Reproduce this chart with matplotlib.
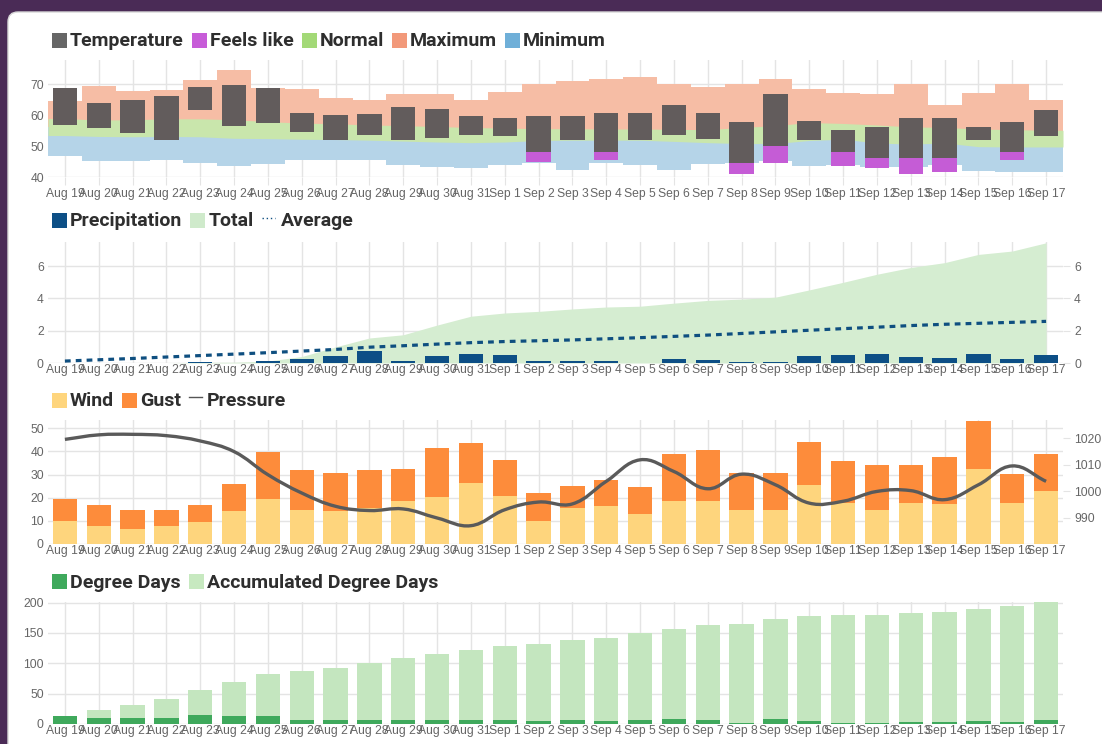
import matplotlib
matplotlib.use("Agg")
import matplotlib.pyplot as plt
import numpy as np
from matplotlib.lines import Line2D
from matplotlib.patches import FancyBboxPatch, PathPatch, Rectangle
from matplotlib.path import Path

W, H = 1102, 744
GRID = "#e4e4e4"
TICK_COLOR = "#666666"

days = ["Aug 19", "Aug 20", "Aug 21", "Aug 22", "Aug 23", "Aug 24", "Aug 25",
        "Aug 26", "Aug 27", "Aug 28", "Aug 29", "Aug 30", "Aug 31", "Sep 1",
        "Sep 2", "Sep 3", "Sep 4", "Sep 5", "Sep 6", "Sep 7", "Sep 8", "Sep 9",
        "Sep 10", "Sep 11", "Sep 12", "Sep 13", "Sep 14", "Sep 15", "Sep 16", "Sep 17"]

# temperature panel (F)
temp_high = [68.7, 63.9, 64.8, 66.2, 69.0, 69.6, 68.7, 60.8, 60.0, 60.3, 62.6, 62.0, 59.6, 59.0, 59.6,
             59.6, 60.7, 60.7, 63.3, 60.7, 57.8, 66.9, 58.1, 55.3, 56.0, 59.0, 59.0, 56.0, 57.8, 61.5]
temp_low = [56.7, 55.9, 54.3, 52.1, 61.7, 56.4, 57.5, 54.4, 51.8, 53.5, 51.8, 52.5, 53.5, 53.1, 48.1,
            52.1, 48.1, 51.8, 53.5, 52.3, 44.5, 50.0, 52.0, 48.1, 46.3, 46.3, 46.3, 51.8, 48.1, 53.4]
feels_low = [56.7, 55.9, 54.3, 52.1, 61.7, 56.4, 57.5, 54.4, 51.8, 53.5, 51.8, 52.5, 53.5, 53.1, 44.9,
             52.1, 45.6, 51.8, 53.5, 52.3, 40.9, 44.6, 52.0, 43.4, 42.9, 41.1, 41.5, 51.8, 45.6, 53.4]
normal_high = [58.9, 58.4, 58.5, 58.8, 58.8, 58.5, 57.9, 57.4, 57.2, 56.8, 56.6, 56.3, 56.0, 55.8, 55.6,
               55.6, 55.5, 55.5, 55.4, 55.3, 56.0, 56.6, 57.6, 57.3, 56.8, 56.2, 56.0, 55.5, 55.3, 55.1]
normal_low = [53.4, 53.1, 53.0, 53.1, 53.0, 52.5, 52.4, 52.2, 52.1, 51.9, 51.6, 51.3, 51.1, 51.3, 51.8,
              51.9, 51.9, 51.9, 51.5, 51.1, 50.8, 50.8, 51.8, 52.2, 51.0, 50.6, 51.0, 49.8, 49.7, 49.7]
max_high = [64.6, 69.4, 67.7, 68.2, 71.3, 74.5, 68.7, 68.5, 65.6, 65.0, 66.7, 66.7, 65.0, 67.5, 70.2,
            70.9, 71.8, 72.2, 69.9, 69.1, 69.9, 71.6, 68.3, 67.3, 66.8, 70.2, 63.2, 67.2, 69.9, 65.0]
min_low = [46.7, 45.1, 45.3, 45.6, 44.6, 43.5, 44.2, 45.4, 45.6, 45.6, 44.0, 43.2, 42.9, 43.8, 44.5,
           42.4, 44.5, 44.0, 42.4, 44.3, 44.6, 45.1, 43.6, 44.0, 43.2, 43.2, 43.8, 41.8, 41.6, 41.6]

# precipitation panel (in)
precip = [0, 0, 0, 0, 0.04, 0, 0.10, 0.22, 0.43, 0.72, 0.12, 0.43, 0.53, 0.49, 0.12,
          0.12, 0.12, 0.03, 0.22, 0.18, 0.06, 0.06, 0.41, 0.47, 0.53, 0.37, 0.31, 0.53, 0.25, 0.51]
precip_total = [0, 0, 0, 0, 0.04, 0.05, 0.12, 0.40, 1.0, 1.55, 1.75, 2.35, 2.9, 3.1, 3.2,
                3.35, 3.47, 3.52, 3.71, 3.88, 3.96, 4.08, 4.53, 5.0, 5.5, 5.92, 6.22, 6.73, 6.94, 7.45]
precip_avg = [0.12, 0.20, 0.28, 0.37, 0.46, 0.55, 0.64, 0.74, 0.84, 0.98, 1.07, 1.17, 1.26, 1.33, 1.38,
              1.43, 1.50, 1.57, 1.65, 1.73, 1.83, 1.93, 2.03, 2.13, 2.22, 2.32, 2.40, 2.46, 2.52, 2.58]

# wind panel (mph, hPa)
wind = [10.1, 7.9, 6.3, 7.9, 9.3, 14.1, 19.5, 14.8, 14.1, 15.5, 18.4, 20.4, 26.3, 20.8, 10.1,
        15.7, 16.5, 12.8, 18.4, 18.4, 14.5, 14.8, 25.7, 17.7, 14.5, 17.7, 17.4, 32.3, 17.7, 23.0]
gust = [19.5, 17.0, 14.8, 14.8, 17.0, 26.0, 39.9, 31.8, 30.9, 31.8, 32.3, 41.7, 43.7, 36.1, 22.0,
        25.1, 27.6, 24.6, 38.9, 40.7, 30.6, 30.9, 44.1, 35.9, 34.3, 34.3, 37.4, 53.3, 30.2, 38.9]
pressure = [1019.6, 1021.3, 1021.5, 1021.0, 1019.0, 1015.0, 1006.3, 999.4, 994.4, 992.8, 993.4, 990.0,
            987.1, 993.1, 996.0, 995.3, 1003.8, 1011.9, 1007.5, 1001.0, 1006.5, 1002.5, 995.6, 996.3,
            1000.0, 1000.3, 996.9, 1002.5, 1009.6, 1003.8]

# degree days panel
degree_days = [13.0, 9.8, 9.8, 9.8, 14.7, 13.0, 13.0, 7.1, 7.1, 7.1, 7.1, 7.1, 7.1, 7.1, 5.4,
               6.5, 5.4, 6.5, 8.2, 6.5, 1.0, 8.2, 4.9, 1.0, 1.0, 3.8, 3.8, 5.4, 3.3, 6.5]
degree_days_acc = [13.0, 22.3, 32.1, 41.8, 56.0, 69.0, 82.1, 88.0, 92.9, 101.1, 108.2, 115.8, 122.3,
                   128.8, 132.1, 138.6, 141.8, 149.5, 156.5, 162.5, 164.1, 172.3, 177.2, 178.8,
                   180.4, 182.1, 185.3, 190.2, 194.0, 200.5]

plt.rcParams["font.family"] = ["Liberation Sans", "DejaVu Sans"]

x = np.arange(len(days))


def px_axes(fig, top, bottom, left=48, right=1063):
    return fig.add_axes([left / W, 1 - bottom / H, (right - left) / W, (bottom - top) / H])


def style_axes(ax, ylim, yticks, xtick_len, xpad):
    ax.set_facecolor("none")
    ax.set_xlim(-0.5, len(days) - 0.5)
    ax.set_ylim(*ylim)
    ax.set_xticks(x)
    ax.set_xticklabels(days)
    ax.set_yticks(yticks)
    ax.grid(True, color=GRID, lw=1)
    ax.set_axisbelow(True)
    for s in ax.spines.values():
        s.set_visible(False)
    ax.tick_params(axis="x", length=xtick_len, color=GRID, pad=xpad,
                   labelsize=8.7, labelcolor=TICK_COLOR)
    ax.tick_params(axis="y", length=0, pad=3, labelsize=8.7, labelcolor=TICK_COLOR)


def right_axis(ax, ylim, yticks):
    rax = ax.twinx()
    rax.set_ylim(*ylim)
    rax.set_yticks(yticks)
    for s in rax.spines.values():
        s.set_visible(False)
    rax.tick_params(axis="y", length=5, color=GRID, pad=3, labelsize=8.7, labelcolor=TICK_COLOR)
    return rax


def smooth_path(ax, xs, ys, tension=0.4):
    # chart.js style bezier through the data points, built in pixel space
    pts = ax.transData.transform(np.column_stack([xs, ys]))
    n = len(pts)
    ctrl = []
    for i in range(n):
        p0, p1, p2 = pts[max(i - 1, 0)], pts[i], pts[min(i + 1, n - 1)]
        d01 = np.hypot(*(p1 - p0))
        d12 = np.hypot(*(p2 - p1))
        s01 = d01 / (d01 + d12) if d01 + d12 else 0
        ctrl.append((p1 - tension * s01 * (p2 - p0), p1 + tension * (1 - s01) * (p2 - p0)))
    verts = [pts[0]]
    codes = [Path.MOVETO]
    for i in range(1, n):
        verts += [ctrl[i - 1][1], ctrl[i][0], pts[i]]
        codes += [Path.CURVE4] * 3
    return Path(ax.transData.inverted().transform(np.array(verts)), codes)


def legend_row(fig, y, items):
    renderer = fig.canvas.get_renderer()
    xpos = 52
    fy = 1 - y / H
    for kind, color, label in items:
        if kind == "box":
            fig.add_artist(Rectangle((xpos / W, 1 - (y + 7.5) / H), 15 / W, 15 / H,
                                     transform=fig.transFigure, color=color, lw=0))
            tx = xpos + 18
        elif kind == "dots":
            fig.add_artist(Line2D([xpos / W, (xpos + 13) / W], [fy + 2 / H] * 2, transform=fig.transFigure,
                                  color=color, lw=1.0, ls=(0, (1, 2))))
            tx = xpos + 19
        else:
            fig.add_artist(Line2D([xpos / W, (xpos + 13) / W], [fy + 3 / H] * 2, transform=fig.transFigure,
                                  color=color, lw=1.0))
            tx = xpos + 18
        t = fig.text(tx / W, fy - 1.5 / H, label, fontsize=14, fontweight="bold", family="Roboto",
                     color="#2e2e2e", va="center", ha="left")
        xpos = t.get_window_extent(renderer).x1 + 8


fig = plt.figure(figsize=(W / 100, H / 100), dpi=100)
fig.patch.set_facecolor("#4a2b56")
fig.add_artist(FancyBboxPatch((0.08, -0.3), 11.3, 7.32 + 0.3, boxstyle="round,pad=0,rounding_size=0.1",
                              transform=fig.dpi_scale_trans, facecolor="white", edgecolor="#d8d8d8",
                              lw=1, zorder=0))

# --- temperature
ax1 = px_axes(fig, 60, 177)
style_axes(ax1, (40, 77.8), [40, 50, 60, 70], 6, 2)
normal_mid = (np.array(normal_low) + np.array(normal_high)) / 2
ax1.bar(x, np.array(max_high) - np.array(min_low), bottom=min_low, width=1.0, color="#f6bda5", zorder=1)
ax1.bar(x, normal_mid - np.array(min_low), bottom=min_low, width=1.0, color="#b5d4e8", zorder=1.1)
xe = np.r_[-0.5, x, len(days) - 0.5]
ax1.fill_between(xe, np.r_[normal_low[0], normal_low, normal_low[-1]],
                 np.r_[normal_high[0], normal_high, normal_high[-1]], color="#c9e6ac", lw=0, zorder=1.2)
ax1.bar(x, np.array(temp_high) - np.array(feels_low), bottom=feels_low, width=0.72, color="#c55cd6", zorder=2)
ax1.bar(x, np.array(temp_high) - np.array(temp_low), bottom=temp_low, width=0.72, color="#625c5c", zorder=3)
legend_row(fig, 40, [("box", "#666666", "Temperature"), ("box", "#c75cd8", "Feels like"),
                     ("box", "#a3d977", "Normal"), ("box", "#f2997a", "Maximum"),
                     ("box", "#6fafd8", "Minimum")])

# --- precipitation
ax2 = px_axes(fig, 242, 363)
style_axes(ax2, (0, 7.5), [0, 2, 4, 6], 0, 1)
ax2.fill_between(x, 0, precip_total, color="#d5edd1", lw=0, zorder=1)
ax2.bar(x, precip, width=0.72, color="#0d4f86", zorder=2)
ax2.plot(x, precip_avg, color="#0f4f80", lw=2.3, ls=(0, (1.8, 1.6)), zorder=3)
right_axis(ax2, (0, 7.5), [0, 2, 4, 6])
legend_row(fig, 220, [("box", "#0d4f86", "Precipitation"), ("box", "#cfeacb", "Total"),
                      ("dots", "#0f4f80", "Average")])

# --- wind
ax3 = px_axes(fig, 420, 544)
style_axes(ax3, (0, 53.6), [0, 10, 20, 30, 40, 50], 0, 1)
ax3.bar(x, gust, width=0.72, color="#fd8c3b", zorder=1)
ax3.bar(x, wind, width=0.72, color="#fed57d", zorder=2)
ax3b = right_axis(ax3, (980.2, 1026.9), [990, 1000, 1010, 1020])
ax3b.add_patch(PathPatch(smooth_path(ax3b, x, pressure), facecolor="none", edgecolor="#5a5a5a",
                         lw=2.4, zorder=3))
legend_row(fig, 400, [("box", "#fed57d", "Wind"), ("box", "#fd8c3b", "Gust"),
                      ("line", "#555555", "Pressure")])

# --- degree days
ax4 = px_axes(fig, 602, 724)
style_axes(ax4, (0, 201), [0, 50, 100, 150, 200], 0, 1)
ax4.bar(x, degree_days_acc, width=0.72, color="#c4e6bf", zorder=1)
ax4.bar(x, degree_days, width=0.72, color="#3fa95c", zorder=2)
legend_row(fig, 581, [("box", "#3fa95c", "Degree Days"), ("box", "#c7e9c0", "Accumulated Degree Days")])

fig.savefig("out.png", dpi=100, facecolor=fig.get_facecolor())
